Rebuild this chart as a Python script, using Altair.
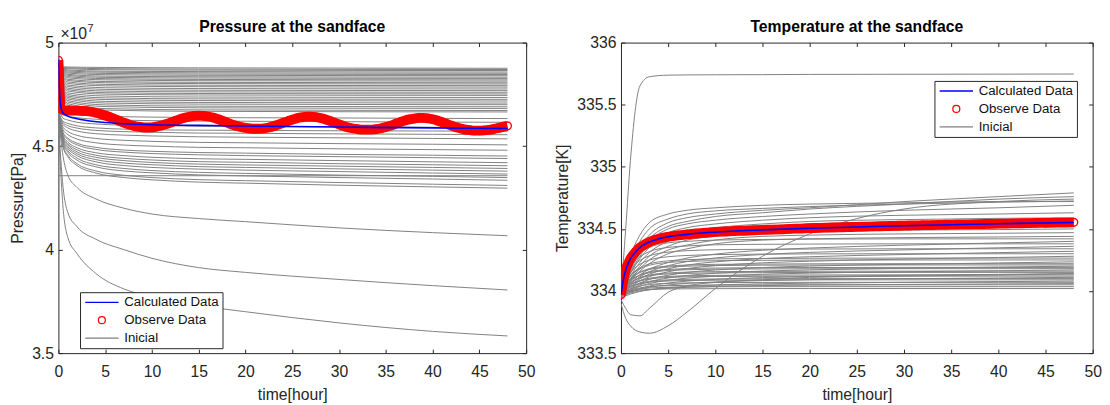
import altair as alt
import pandas as pd

FONT = "Liberation Sans"
INK = "#262626"

SERIES = ["Calculated Data", "Observe Data", "Inicial"]
SERIES_COLORS = ["#0000ff", "#ff0000", "#808080"]
LEGEND_SHAPES = ["M-4.8,0L4.8,0", "circle", "M-4.8,0L4.8,0"]

X_TICKS = [0, 5, 10, 15, 20, 25, 30, 35, 40, 45, 50]
P_TICKS = [3.5, 4, 4.5, 5]
T_TICKS = [333.5, 334, 334.5, 335, 335.5, 336]

P_TITLE = ["Pressure at the sandface"]
T_TITLE = ["Temperature at the sandface"]
EXP_BASE = ["×10"]
EXP_POWER = ["7"]

# ---------------- Pressure panel (values in 1e7 Pa) ----------------
P_BAND_T = [0, 1, 5, 15, 48]
P_BAND = [
    [4.885, 4.882, 4.880, 4.878, 4.876],
    [4.882, 4.878, 4.874, 4.872, 4.870],
    [4.880, 4.874, 4.869, 4.867, 4.865],
    [4.878, 4.868, 4.862, 4.860, 4.858],
    [4.876, 4.863, 4.857, 4.854, 4.852],
    [4.874, 4.858, 4.851, 4.848, 4.846],
    [4.872, 4.853, 4.845, 4.842, 4.840],
    [4.870, 4.847, 4.838, 4.835, 4.833],
    [4.868, 4.842, 4.832, 4.829, 4.827],
    [4.866, 4.836, 4.826, 4.822, 4.820],
    [4.864, 4.830, 4.820, 4.816, 4.814],
    [4.862, 4.823, 4.812, 4.808, 4.806],
    [4.860, 4.817, 4.806, 4.802, 4.800],
    [4.858, 4.810, 4.798, 4.794, 4.792],
    [4.856, 4.803, 4.791, 4.787, 4.785],
    [4.853, 4.795, 4.782, 4.778, 4.776],
    [4.850, 4.788, 4.774, 4.770, 4.768],
    [4.847, 4.780, 4.766, 4.762, 4.760],
    [4.844, 4.773, 4.758, 4.754, 4.752],
    [4.840, 4.766, 4.751, 4.747, 4.745],
    [4.836, 4.757, 4.742, 4.737, 4.735],
    [4.832, 4.749, 4.733, 4.728, 4.726],
    [4.828, 4.742, 4.725, 4.720, 4.718],
    [4.822, 4.735, 4.716, 4.711, 4.708],
    [4.816, 4.728, 4.708, 4.703, 4.700],
    [4.810, 4.720, 4.699, 4.693, 4.690],
    [4.804, 4.713, 4.691, 4.685, 4.682],
    [4.796, 4.705, 4.681, 4.675, 4.672],
    [4.790, 4.698, 4.674, 4.668, 4.665],
]

P_FAN_T = [0, 0.5, 1, 2, 4, 7, 10, 15, 20, 30, 40, 48]
P_FAN = [
    [4.70, 4.667, 4.661, 4.653, 4.646, 4.642, 4.640, 4.638, 4.637, 4.636, 4.634, 4.633],
    [4.69, 4.652, 4.645, 4.637, 4.630, 4.625, 4.623, 4.621, 4.620, 4.618, 4.616, 4.615],
    [4.68, 4.635, 4.626, 4.615, 4.607, 4.601, 4.599, 4.596, 4.595, 4.593, 4.591, 4.590],
    [4.67, 4.620, 4.610, 4.598, 4.588, 4.582, 4.579, 4.577, 4.576, 4.574, 4.573, 4.572],
    [4.66, 4.613, 4.599, 4.587, 4.576, 4.570, 4.567, 4.563, 4.562, 4.559, 4.557, 4.555],
    [4.66, 4.604, 4.588, 4.573, 4.560, 4.553, 4.549, 4.545, 4.543, 4.540, 4.537, 4.535],
    [4.66, 4.591, 4.571, 4.552, 4.537, 4.528, 4.523, 4.518, 4.516, 4.512, 4.509, 4.506],
    [4.66, 4.579, 4.556, 4.534, 4.516, 4.505, 4.500, 4.494, 4.492, 4.487, 4.483, 4.480],
    [4.66, 4.566, 4.539, 4.514, 4.494, 4.481, 4.475, 4.469, 4.466, 4.460, 4.456, 4.452],
    [4.66, 4.561, 4.532, 4.506, 4.484, 4.471, 4.464, 4.458, 4.454, 4.449, 4.444, 4.440],
    [4.66, 4.552, 4.520, 4.492, 4.468, 4.454, 4.446, 4.439, 4.436, 4.430, 4.424, 4.420],
    [4.66, 4.545, 4.512, 4.482, 4.456, 4.441, 4.433, 4.425, 4.422, 4.415, 4.410, 4.405],
    [4.66, 4.539, 4.505, 4.472, 4.446, 4.430, 4.421, 4.413, 4.409, 4.403, 4.397, 4.392],
    [4.66, 4.534, 4.497, 4.463, 4.435, 4.418, 4.410, 4.401, 4.397, 4.390, 4.384, 4.379],
    [4.66, 4.527, 4.489, 4.454, 4.424, 4.406, 4.397, 4.389, 4.384, 4.377, 4.370, 4.365],
    [4.66, 4.520, 4.479, 4.442, 4.410, 4.392, 4.382, 4.373, 4.368, 4.360, 4.354, 4.348],
    [4.66, 4.514, 4.471, 4.432, 4.400, 4.380, 4.371, 4.361, 4.356, 4.348, 4.341, 4.335],
    [4.66, 4.502, 4.457, 4.415, 4.380, 4.359, 4.348, 4.338, 4.333, 4.324, 4.316, 4.310],
    [4.66, 4.497, 4.449, 4.406, 4.370, 4.348, 4.337, 4.326, 4.321, 4.311, 4.303, 4.297],
    [4.357, 4.357, 4.357, 4.357, 4.357, 4.357, 4.357, 4.357, 4.357, 4.357, 4.357, 4.357],
    [4.64, 4.45, 4.36, 4.30, 4.245, 4.20, 4.172, 4.15, 4.135, 4.105, 4.082, 4.067],
    [4.62, 4.30, 4.18, 4.11, 4.05, 4.00, 3.958, 3.913, 3.89, 3.856, 3.826, 3.805],
    [4.60, 4.20, 4.06, 3.98, 3.885, 3.81, 3.772, 3.73, 3.70, 3.646, 3.605, 3.583],
]

P_CALC_T = [0, 0.05, 0.1, 0.2, 0.3, 0.5, 1, 2, 3, 5, 7, 10, 15, 20, 30, 40, 48]
P_CALC = [4.92, 4.85, 4.78, 4.71, 4.68, 4.66, 4.645, 4.632, 4.624, 4.614, 4.608,
          4.603, 4.600, 4.597, 4.592, 4.588, 4.585]

P_OBS_T = [0, 0.05, 0.1, 0.15, 0.2, 0.3,
           0.5, 1.0, 1.5, 2.0, 2.5, 3.0, 3.5, 4.0, 4.5, 5.0, 5.5, 6.0, 6.5, 7.0, 7.5, 8.0,
           8.5, 9.0, 9.5, 10.0, 10.5, 11.0, 11.5, 12.0, 12.5, 13.0, 13.5, 14.0, 14.5, 15.0,
           15.5, 16.0, 16.5, 17.0, 17.5, 18.0, 18.5, 19.0, 19.5, 20.0, 20.5, 21.0, 21.5, 22.0,
           22.5, 23.0, 23.5, 24.0, 24.5, 25.0, 25.5, 26.0, 26.5, 27.0, 27.5, 28.0, 28.5, 29.0,
           29.5, 30.0, 30.5, 31.0, 31.5, 32.0, 32.5, 33.0, 33.5, 34.0, 34.5, 35.0, 35.5, 36.0,
           36.5, 37.0, 37.5, 38.0, 38.5, 39.0, 39.5, 40.0, 40.5, 41.0, 41.5, 42.0, 42.5, 43.0,
           43.5, 44.0, 44.5, 45.0, 45.5, 46.0, 46.5, 47.0, 47.5, 48.0]
P_OBS = [4.915, 4.87, 4.80, 4.74, 4.70, 4.68,
         4.675, 4.672, 4.671, 4.671, 4.670, 4.669, 4.666, 4.661, 4.655, 4.648, 4.640, 4.631,
         4.622, 4.613, 4.605, 4.598, 4.594, 4.591, 4.590, 4.591, 4.594, 4.599, 4.606, 4.614,
         4.622, 4.630, 4.637, 4.642, 4.646, 4.647, 4.646, 4.643, 4.638, 4.631, 4.623, 4.614,
         4.605, 4.598, 4.592, 4.588, 4.585, 4.584, 4.584, 4.586, 4.590, 4.596, 4.604, 4.612,
         4.620, 4.628, 4.635, 4.639, 4.642, 4.642, 4.640, 4.636, 4.630, 4.622, 4.614, 4.605,
         4.597, 4.590, 4.585, 4.582, 4.580, 4.580, 4.580, 4.582, 4.586, 4.592, 4.599, 4.607,
         4.615, 4.623, 4.629, 4.633, 4.636, 4.636, 4.634, 4.630, 4.624, 4.616, 4.608, 4.599,
         4.591, 4.585, 4.580, 4.577, 4.575, 4.575, 4.576, 4.578, 4.582, 4.587, 4.593, 4.598]

# ---------------- Temperature panel (K) ----------------
T_INIT_T = [0, 0.5, 1, 2, 3, 5, 7, 10, 15, 20, 30, 40, 48]
T_INIT = [
    [333.98, 334.50, 335.05, 335.65, 335.725, 335.738, 335.74, 335.741, 335.742, 335.744, 335.745, 335.746, 335.747],
    [333.93, 333.86, 333.81, 333.80, 333.86, 333.99, 334.04, 334.07, 334.09, 334.11, 334.12, 334.13, 334.14],
    [333.90, 333.78, 333.72, 333.67, 333.66, 333.72, 333.83, 334.02, 334.28, 334.46, 334.66, 334.72, 334.74],
    [333.98, 334.15, 334.28, 334.45, 334.55, 334.62, 334.65, 334.67, 334.69, 334.70, 334.71, 334.72, 334.72],
    [333.97, 334.12, 334.24, 334.40, 334.50, 334.58, 334.62, 334.645, 334.665, 334.68, 334.70, 334.715, 334.725],
    [333.97, 334.10, 334.20, 334.35, 334.45, 334.55, 334.59, 334.62, 334.65, 334.67, 334.72, 334.76, 334.79],
    [333.97, 334.08, 334.18, 334.32, 334.42, 334.52, 334.56, 334.60, 334.63, 334.66, 334.70, 334.74, 334.76],
    [333.97, 334.08, 334.17, 334.30, 334.40, 334.50, 334.54, 334.57, 334.60, 334.62, 334.65, 334.67, 334.69],
    [333.96, 334.07, 334.15, 334.28, 334.38, 334.47, 334.51, 334.54, 334.57, 334.59, 334.61, 334.62, 334.63],
    [333.96, 334.06, 334.14, 334.26, 334.35, 334.44, 334.48, 334.51, 334.54, 334.56, 334.575, 334.585, 334.59],
    [333.96, 334.05, 334.12, 334.23, 334.31, 334.40, 334.45, 334.49, 334.52, 334.54, 334.555, 334.565, 334.57],
    [333.96, 334.04, 334.10, 334.20, 334.28, 334.36, 334.41, 334.44, 334.47, 334.48, 334.49, 334.495, 334.50],
    [333.96, 334.04, 334.09, 334.18, 334.25, 334.33, 334.37, 334.41, 334.44, 334.45, 334.46, 334.465, 334.47],
    [333.96, 334.03, 334.08, 334.16, 334.22, 334.30, 334.34, 334.38, 334.41, 334.42, 334.43, 334.435, 334.44],
    [333.97, 333.988, 333.998, 334.008, 334.013, 334.017, 334.018, 334.019, 334.02, 334.02, 334.02, 334.02, 334.02],
    [333.96, 333.986, 334.001, 334.016, 334.024, 334.03, 334.032, 334.034, 334.035, 334.035, 334.035, 334.035, 334.035],
    [333.95, 333.985, 334.005, 334.025, 334.035, 334.043, 334.046, 334.048, 334.049, 334.05, 334.05, 334.05, 334.05],
    [333.96, 333.975, 333.985, 334.0, 334.01, 334.022, 334.03, 334.037, 334.044, 334.048, 334.053, 334.057, 334.06],
    [333.95, 333.992, 334.016, 334.04, 334.052, 334.062, 334.065, 334.068, 334.069, 334.07, 334.07, 334.07, 334.07],
    [333.94, 333.961, 333.975, 333.996, 334.01, 334.027, 334.038, 334.048, 334.058, 334.063, 334.07, 334.076, 334.08],
    [333.96, 334.006, 334.032, 334.058, 334.071, 334.081, 334.085, 334.087, 334.089, 334.09, 334.09, 334.09, 334.09],
    [333.95, 334.003, 334.033, 334.063, 334.078, 334.09, 334.094, 334.097, 334.099, 334.1, 334.1, 334.1, 334.1],
    [333.95, 333.974, 333.99, 334.014, 334.03, 334.049, 334.062, 334.073, 334.084, 334.091, 334.099, 334.105, 334.11],
    [333.96, 334.016, 334.048, 334.08, 334.096, 334.109, 334.114, 334.117, 334.118, 334.119, 334.12, 334.12, 334.12],
    [333.95, 334.013, 334.049, 334.085, 334.103, 334.117, 334.123, 334.126, 334.128, 334.129, 334.13, 334.13, 334.13],
    [333.94, 333.97, 333.99, 334.02, 334.04, 334.064, 334.08, 334.094, 334.108, 334.116, 334.126, 334.134, 334.14],
    [333.96, 334.027, 334.065, 334.103, 334.122, 334.137, 334.142, 334.146, 334.148, 334.149, 334.15, 334.15, 334.15],
    [333.95, 334.024, 334.066, 334.108, 334.129, 334.145, 334.152, 334.156, 334.158, 334.159, 334.16, 334.16, 334.16],
    [333.95, 333.983, 334.005, 334.038, 334.06, 334.086, 334.104, 334.119, 334.135, 334.144, 334.155, 334.163, 334.17],
    [333.96, 334.037, 334.081, 334.125, 334.147, 334.165, 334.171, 334.176, 334.178, 334.179, 334.18, 334.18, 334.18],
    [333.95, 334.034, 334.082, 334.13, 334.154, 334.173, 334.18, 334.185, 334.188, 334.189, 334.19, 334.19, 334.19],
    [333.95, 333.988, 334.013, 334.05, 334.075, 334.105, 334.125, 334.143, 334.16, 334.17, 334.183, 334.193, 334.2],
    [333.96, 334.048, 334.098, 334.148, 334.173, 334.193, 334.2, 334.205, 334.208, 334.209, 334.21, 334.21, 334.21],
    [333.95, 334.045, 334.099, 334.153, 334.18, 334.201, 334.209, 334.215, 334.217, 334.219, 334.22, 334.22, 334.22],
    [333.95, 333.993, 334.021, 334.064, 334.093, 334.127, 334.15, 334.169, 334.189, 334.201, 334.215, 334.226, 334.235],
    [333.96, 334.062, 334.12, 334.178, 334.207, 334.23, 334.238, 334.244, 334.247, 334.249, 334.25, 334.25, 334.25],
    [333.95, 334.06, 334.123, 334.186, 334.218, 334.243, 334.252, 334.259, 334.262, 334.264, 334.265, 334.265, 334.265],
    [333.95, 334.0, 334.033, 334.082, 334.115, 334.155, 334.181, 334.204, 334.227, 334.24, 334.257, 334.27, 334.28],
    [333.96, 334.079, 334.147, 334.215, 334.249, 334.276, 334.286, 334.293, 334.297, 334.299, 334.3, 334.3, 334.3],
    [333.95, 334.006, 334.043, 334.098, 334.135, 334.179, 334.209, 334.235, 334.261, 334.276, 334.294, 334.309, 334.32],
    [333.96, 334.093, 334.169, 334.245, 334.283, 334.313, 334.325, 334.332, 334.336, 334.338, 334.34, 334.34, 334.34],
    [333.95, 334.012, 334.053, 334.114, 334.155, 334.204, 334.237, 334.266, 334.294, 334.311, 334.331, 334.348, 334.36],
    [333.96, 334.107, 334.191, 334.275, 334.317, 334.351, 334.363, 334.372, 334.376, 334.378, 334.38, 334.38, 334.38],
    [333.95, 334.018, 334.063, 334.13, 334.175, 334.229, 334.265, 334.297, 334.328, 334.346, 334.369, 334.387, 334.4],
    [333.96, 334.121, 334.213, 334.305, 334.351, 334.388, 334.4, 334.41, 334.415, 334.418, 334.42, 334.42, 334.42],
]

T_CALC_T = [0, 0.1, 0.2, 0.3, 0.5, 0.75, 1, 1.5, 2, 3, 4, 5, 7, 10, 15, 20, 30, 40, 48]
T_CALC = [333.97, 334.02, 334.07, 334.11, 334.17, 334.22, 334.26, 334.31, 334.35, 334.395,
          334.42, 334.437, 334.456, 334.474, 334.492, 334.506, 334.526, 334.542, 334.552]

T_OBS_T = [0, 0.1, 0.2, 0.3, 0.4, 0.5, 0.75, 1, 1.5, 2, 2.5, 3, 3.5, 4, 4.5, 5, 6, 7, 8, 9,
           10, 11, 12, 13, 14, 15, 16, 17, 18, 19, 20, 21, 22, 23, 24, 25, 26, 27, 28, 29,
           30, 31, 32, 33, 34, 35, 36, 37, 38, 39, 40, 41, 42, 43, 44, 45, 46, 47, 48]
T_OBS = [333.97, 334.02, 334.07, 334.11, 334.14, 334.17, 334.22, 334.26, 334.31, 334.35,
         334.375, 334.395, 334.41, 334.42, 334.43, 334.437, 334.448, 334.456, 334.463, 334.469,
         334.476, 334.479, 334.483, 334.485, 334.489, 334.492, 334.494, 334.497, 334.501, 334.503,
         334.507, 334.508, 334.510, 334.513, 334.514, 334.517, 334.518, 334.520, 334.523, 334.524,
         334.527, 334.528, 334.530, 334.531, 334.533, 334.535, 334.536, 334.537, 334.539, 334.540,
         334.542, 334.543, 334.545, 334.546, 334.548, 334.548, 334.550, 334.551, 334.553]


def curves_frame(prefix, times, curves):
    rows = []
    for i, vals in enumerate(curves):
        for t, v in zip(times, vals):
            rows.append({"curve": f"{prefix}{i}", "t": t, "v": v, "series": "Inicial"})
    return pd.DataFrame(rows)


def series_frame(name, times, vals):
    return pd.DataFrame({"t": times, "v": vals, "series": name})


def neg(n):
    return alt.ExprRef(expr=str(-n))


def panel(gray_df, calc_df, obs_df, ydom, yticks, title, ytitle, lx, ly, width, extra=()):
    xs = alt.Scale(domain=[0, 50], nice=False, zero=False)
    ys = alt.Scale(domain=ydom, nice=False, zero=False)
    cs = alt.Scale(domain=SERIES, range=SERIES_COLORS)
    ss = alt.Scale(domain=SERIES, range=LEGEND_SHAPES)

    x_bottom = alt.Axis(orient="bottom", values=X_TICKS, title="time[hour]", tickSize=neg(4),
                        labelPadding=15, titlePadding=7, labelFlush=False, labelOverlap=False)
    y_left = alt.Axis(orient="left", values=yticks, title=ytitle, format="~g", tickSize=neg(4),
                      labelPadding=9, titlePadding=6, labelFlush=False, labelOverlap=False)
    x_top = alt.Axis(orient="top", values=X_TICKS, title=None, labels=False, tickSize=neg(4))
    y_right = alt.Axis(orient="right", values=yticks, title=None, labels=False, tickSize=neg(4))

    leg = alt.Legend(title=None, orient="none", legendX=lx, legendY=ly, direction="vertical",
                     fillColor="white", strokeColor=INK, padding=3.5,
                     cornerRadius=0, symbolSize=50, symbolStrokeWidth=1.3, symbolOffset=12,
                     labelOffset=16, labelFont=FONT, labelFontSize=13.5, labelColor="#111111",
                     rowPadding=3.2, labelLimit=200)

    def col():
        return alt.Color("series:N", scale=cs, legend=leg)

    gray = alt.Chart(gray_df).mark_line(strokeWidth=1, interpolate="monotone", clip=True).encode(
        x=alt.X("t:Q", scale=xs, axis=x_bottom),
        y=alt.Y("v:Q", scale=ys, axis=y_left),
        detail="curve:N",
        color=col(),
    )
    obs_band = alt.Chart(obs_df).mark_line(strokeWidth=10, interpolate="monotone", clip=True).encode(
        x=alt.X("t:Q", scale=xs, axis=None),
        y=alt.Y("v:Q", scale=ys, axis=None),
        color=col(),
    )
    obs_pts = alt.Chart(obs_df).mark_point(shape="circle", size=62, strokeWidth=1.4, filled=False,
                                           opacity=1, clip=True).encode(
        x=alt.X("t:Q", scale=xs, axis=None),
        y=alt.Y("v:Q", scale=ys, axis=None),
        color=col(),
    )
    calc = alt.Chart(calc_df).mark_line(strokeWidth=1.6, interpolate="monotone", clip=True).encode(
        x=alt.X("t:Q", scale=xs, axis=x_top),
        y=alt.Y("v:Q", scale=ys, axis=y_right),
        color=col(),
    )
    legend_df = pd.DataFrame({"series": SERIES, "t": [float("nan")] * 3, "v": [float("nan")] * 3})
    legend_layer = alt.Chart(legend_df).mark_point(filled=False, opacity=1).encode(
        x=alt.X("t:Q", scale=xs, axis=None),
        y=alt.Y("v:Q", scale=ys, axis=None),
        color=col(),
        shape=alt.Shape("series:N", scale=ss, legend=leg),
    )
    title_mark = alt.Chart(pd.DataFrame({"s": title})).mark_text(
        align="center", baseline="middle", font=FONT, fontSize=16, fontWeight="bold",
        color="black").encode(x=alt.value(width / 2), y=alt.value(-15.5), text="s:N")
    layers = [gray, obs_band, obs_pts, calc, legend_layer, title_mark] + list(extra)
    return alt.layer(*layers).properties(width=width, height=316)


p_gray = pd.concat([curves_frame("b", P_BAND_T, P_BAND), curves_frame("f", P_FAN_T, P_FAN)],
                   ignore_index=True)
p_calc = series_frame("Calculated Data", P_CALC_T, P_CALC)
p_obs = series_frame("Observe Data", P_OBS_T, P_OBS)

t_gray = curves_frame("c", T_INIT_T, T_INIT)
t_calc = series_frame("Calculated Data", T_CALC_T, T_CALC)
t_obs = series_frame("Observe Data", T_OBS_T, T_OBS)

exp_base = alt.Chart(pd.DataFrame({"s": EXP_BASE})).mark_text(
    align="left", baseline="alphabetic", font=FONT, fontSize=16, color=INK).encode(
    x=alt.value(2), y=alt.value(-4), text="s:N")
exp_pow = alt.Chart(pd.DataFrame({"s": EXP_POWER})).mark_text(
    align="left", baseline="alphabetic", font=FONT, fontSize=11, color=INK).encode(
    x=alt.value(29.5), y=alt.value(-11), text="s:N")

left = panel(p_gray, p_calc, p_obs, [3.5, 5], P_TICKS, P_TITLE, "Pressure[Pa]",
             22, 254, 476, extra=(exp_base, exp_pow))
right = panel(t_gray, t_calc, t_obs, [333.5, 336], T_TICKS, T_TITLE,
              "Temperature[K]", 319, 39, 480)

chart = alt.hconcat(left, right, spacing=18.5).resolve_scale(
    color="independent", shape="independent"
).resolve_legend(color="independent", shape="independent").properties(
    padding={"left": 1.3, "top": 7.7, "right": 0, "bottom": 0},
    background="white",
).configure_view(
    stroke=INK, strokeWidth=1
).configure_axis(
    grid=False, domain=False, ticks=True, tickColor=INK, tickWidth=1,
    labelFont=FONT, labelFontSize=16, labelColor=INK,
    titleFont=FONT, titleFontSize=16, titleFontWeight="normal", titleColor=INK,
)

chart.save("out.html", embed_options={"renderer": "svg", "actions": False})
